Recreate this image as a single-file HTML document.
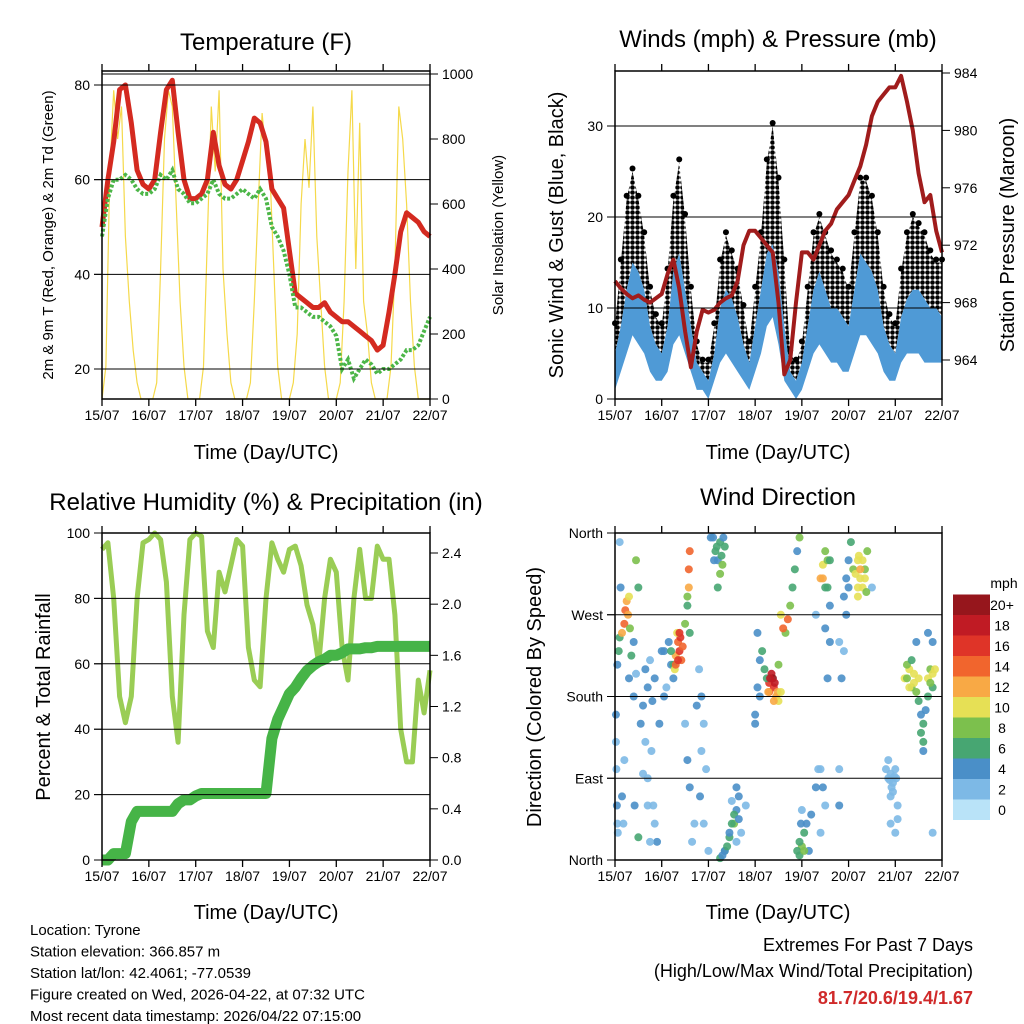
<!DOCTYPE html>
<html><head><meta charset="utf-8"><style>
body{margin:0;background:#fff}
svg{display:block;font-family:"Liberation Sans",sans-serif}
</style></head><body>
<svg id="s" width="1024" height="1024" viewBox="0 0 1024 1024">
<defs><pattern id="dots" width="5" height="5" patternUnits="userSpaceOnUse"><circle cx="2.5" cy="2.5" r="2.3" fill="#000"/></pattern></defs>
</svg>
<script>
// ---- data (3-hourly from 15/07 00 UTC) ----
const dayLabels=["15/07","16/07","17/07","18/07","19/07","20/07","21/07","22/07"];
const tempT=[50,60,68,79,80,72,62,59, 58,60,70,79,81,70,60,56, 56,57,60,70,63,59,58,60, 64,68,73,72,68,58,56,54, 45,36,35,34,33,33,34,32, 31,30,30,29,28,27,26,24, 25,32,40,49,53,52,51,49,48];
const tempTd=[48,56,60,60,61,60,58,57, 57,58,61,60,62,58,57,55, 55,56,57,60,57,56,56,57, 58,57,56,58,56,50,48,45, 40,33,33,32,31,31,30,29, 27,20,22,18,20,22,21,19, 20,20,21,22,24,24,25,28,31];
const solar=[0,100,700,950,800,900,500,300,150,50,0,0, 0,0,50,400,800,950,900,600,300,100,0,0, 0,0,100,500,900,700,950,400,200,50,0,0, 0,0,50,300,600,880,750,700,400,100,0,0, 0,50,200,600,800,650,900,500,300,100,0,0, 0,50,300,700,950,400,850,300,200,50,0,0, 0,0,100,400,900,800,600,300,100,0,0,0,0];
const pressure=[969.5,969,968.6,968.3,968.5,968.2,968,968.3, 968.6,970,971,969,966,963.5,966,967.5, 967.3,967.5,968,968.3,968.5,969.5,972,973, 973,972.5,972,971.5,968,963,964,968, 971.5,971.5,971,972,973,973.5,974.5,975, 975.5,976.5,977.5,979,981,982,982.5,983, 983,983.8,982,980,977,975,975.5,973,971.5];
const windLow=[1,3,5,7,6,5,3,2, 2,3,6,7,5,3,1,1, 0,2,4,5,4,3,2,1, 3,5,8,9,6,2,1,0, 1,3,5,6,5,4,4,3, 3,5,7,7,6,5,3,2, 2,4,5,5,5,4,4,4,4];
const windHigh=[5,8,12,15,14,12,8,6, 5,8,14,16,12,8,4,3, 2,5,10,12,11,9,6,4, 8,12,16,17,14,8,3,2, 4,8,12,14,12,10,10,9, 8,12,16,15,14,12,8,6, 5,9,11,12,12,11,10,10,9];
const gustHigh=[8,15,22,25,22,18,12,9, 8,14,22,26,20,12,6,4, 4,8,15,18,16,14,10,6, 12,18,26,30,24,15,5,4, 6,12,18,20,18,16,15,14, 12,18,24,24,22,18,12,9, 8,14,18,20,19,18,16,15,15];
const rh=[95,97,80,50,42,50,80,97, 98,100,98,85,50,36,75,98, 100,99,70,65,88,82,90,98, 96,65,55,53,80,97,92,88, 95,96,90,78,72,60,80,92, 88,65,55,80,95,80,80,96, 92,92,75,40,30,30,55,45,58];
const precip=[0,0,.05,.05,.05,.3,.38,.38, .38,.38,.38,.38,.38,.44,.47,.47, .5,.52,.52,.52,.52,.52,.52,.52, .52,.52,.52,.52,.52,.95,1.1,1.2, 1.3,1.35,1.42,1.48,1.52,1.55,1.57,1.6, 1.6,1.62,1.65,1.65,1.65,1.66,1.66,1.67, 1.67,1.67,1.67,1.67,1.67,1.67,1.67,1.67,1.67];
const dirT=[0.05,0.08,0.1,0.15,0.2,0.22,0.25,0.28,0.3,0.32,0.02,0.04,0.06,0.1,0.4,0.45,0.42,0.5,0.45,0.5,0.55,0.6,
0.65,0.7,0.75,0.8,0.85,0.78,0.82,0.9,
1.3,1.35,1.38,1.4,1.42,1.45,1.33,1.5,1.55,1.58,1.6,1.58,1.2,1.25,1.1,1.15,1.05,
1.8,1.85,1.9,1.95,1.82,1.9,2.0,
2.1,2.15,2.2,2.25,2.3,2.35,2.2,2.05,
2.25,2.35,2.45,2.55,2.6,2.65,2.7,2.8,2.5,
3.3,3.35,3.4,3.45,3.5,3.3,3.38,3.2,3.1,3.05,3.15,3.0,
3.65,3.7,3.75,3.8,3.85,3.9,3.95,
3.95,4.0,4.05,4.1,4.15,4.0,
4.4,4.45,4.5,4.55,4.6,4.5,4.3,4.35,4.45,4.5,4.4,
5.1,5.2,5.25,5.3,5.35,5.4,5.2,5.0,4.95,4.9,5.05,5.5,
5.85,5.9,5.95,6.0,5.95,6.05,5.9,5.85,
6.2,6.3,6.35,6.4,6.25,6.5,6.55,6.6,6.7,6.75,6.8,6.45,6.7,6.6,6.8,
0.02,0.03,0.05,0.15,0.18,0.2,0.12,0.3,0.35,0.4,0.6,0.65,0.7,0.7,0.75,0.85,0.95,1.0,1.05,
1.2,1.25,1.28,1.3,1.35,1.38,1.55,1.6,1.5,1.55,1.6,1.7,1.65,1.75,1.85,
2.12,2.18,2.28,2.32,2.25,2.35,2.4,2.45,2.5,2.55,2.6,2.65,2.6,2.3,
3.0,3.05,3.1,3.25,3.28,3.32,3.42,3.48,3.55,3.4,3.5,3.55,3.6,
3.9,3.95,3.98,4.05,4.2,4.3,4.4,4.6,4.5,4.45,4.55,4.55,4.6,
5.0,5.15,5.2,5.25,5.3,5.35,5.38,5.22,4.8,4.85,4.9,4.95,4.8,4.8,
5.8,5.88,5.92,5.98,6.02,5.9,6.0,6.05,6.25,6.3,6.4,6.45,6.5,6.55,6.6,6.65,6.75,6.8,6.85,6.7,6.35,6.8];
const dirD=[215,230,245,250,260,275,285,270,290,255,130,60,30,350,180,205,60,25,330,300,150,95,
210,190,220,175,200,120,60,20,
225,240,230,245,220,235,250,260,290,320,340,300,215,200,190,240,230,
210,180,150,100,70,40,10,
355,340,330,350,325,345,300,355,
2,10,25,40,55,70,30,60,65,
195,205,190,180,175,185,200,210,220,250,230,150,
250,265,280,300,320,340,355,
5,15,30,40,10,55,
310,325,300,330,280,255,270,100,80,60,30,
320,300,310,330,320,340,290,330,270,230,350,300,
90,95,85,100,75,60,40,110,
200,210,190,195,215,175,160,150,200,210,190,240,250,120,30,
160,100,40,70,40,110,300,200,225,240,170,130,90,60,20,40,150,230,180,
230,215,210,215,220,250,280,250,150,110,80,40,20,170,120,
330,345,335,355,315,10,15,30,40,50,80,45,20,5,
160,190,180,200,185,200,195,185,185,175,215,270,255,
10,20,40,10,50,80,100,330,340,310,300,200,240,
300,315,330,320,300,310,295,335,240,200,290,310,100,60,
100,88,80,92,90,70,30,45,200,190,205,185,200,140,130,165,195,205,210,180,220,240];
const dirS=[4,5,6,12,13,14,12,11,10,8,2,3,1,2,3,2,4,6,8,6,3,2,
4,3,2,4,3,2,1,3,
12,14,16,15,13,14,10,8,7,14,13,12,4,3,2,4,3,
2,4,1,2,3,1,1,
4,5,4,6,7,6,5,4,
5,6,6,7,4,3,2,2,2,
16,18,16,12,10,14,20,6,4,3,5,3,
8,13,7,6,6,4,7,
6,8,5,4,3,2,
12,10,6,8,4,3,2,2,3,2,1,
8,10,10,9,8,7,10,4,4,2,6,2,
2,2,2,2,2,1,2,1,
9,10,8,10,7,6,4,6,9,8,5,3,4,4,2,
3,2,2,4,1,2,3,4,5,3,4,2,1,2,1,2,3,3,4,
5,6,10,14,15,16,6,5,2,4,3,2,1,3,1,
4,6,5,4,7,4,6,4,5,6,4,3,2,4,
4,4,3,5,12,17,18,11,10,12,8,10,13,
6,5,4,7,4,3,2,6,8,11,5,4,3,
4,9,9,11,10,9,8,9,2,3,3,4,2,3,
2,2,2,2,2,2,1,2,8,9,10,7,9,5,6,4,8,9,10,6,6,3];
const cbarColors=["#b9e3f8","#7db9e6","#4a8fc8","#47a672","#7cc04d","#e6e055","#f8a945","#f1652d","#df3428","#c01b24","#96161c"];
const cbarLabels=["0","2","4","6","8","10","12","14","16","18","20+"];

// ---- helpers ----
const NS="http://www.w3.org/2000/svg",S=document.getElementById('s');
function el(tag,a,parent,txt){const e=document.createElementNS(NS,tag);for(const k in a)e.setAttribute(k,a[k]);if(txt!==undefined)e.textContent=txt;(parent||S).appendChild(e);return e;}
function txt(x,y,t,size,anchor,name,extra){const e=el('text',Object.assign({x:x,y:y,'font-size':size,'text-anchor':anchor||'middle',fill:'#000'},extra||{}),S,t);

return e;}
function vtxt(x,y,t,size,name){const e=el('text',{x:0,y:0,'font-size':size,'text-anchor':'middle',transform:`translate(${x},${y}) rotate(-90)`},S,t);

return e;}
function lin(d0,d1,p0,p1){return v=>p0+(v-d0)*(p1-p0)/(d1-d0);}
function poly(pts,attrs,name){const e=el('polyline',Object.assign({points:pts.map(p=>p[0].toFixed(1)+','+p[1].toFixed(1)).join(' '),fill:'none'},attrs));

return e;}

function frame(x0,y0,x1,y1,name,xs,ticksL,ticksR,gridY){
  const g=el('g',{});
  gridY.forEach(y=>el('line',{x1:x0-8,x2:x1,y1:y,y2:y,stroke:'#000','stroke-width':1},g));
  for(let i=0;i<dayLabels.length;i++){const x=xs(i);el('line',{x1:x,x2:x,y1:y1,y2:y1+7,stroke:'#000','stroke-width':1.3},g);el('line',{x1:x,x2:x,y1:y0,y2:y0-7,stroke:'#000','stroke-width':1.3},g);
    const t=txt(x,y1+21,dayLabels[i],14,'middle','x-tick-label');}
  ticksL.forEach(([y,l])=>{el('line',{x1:x0-8,x2:x0,y1:y,y2:y,stroke:'#000'},g);txt(x0-12,y+5,l,14,'end','y-tick-label');});
  ticksR.forEach(([y,l])=>{el('line',{x1:x1,x2:x1+8,y1:y,y2:y,stroke:'#000'},g);txt(x1+12,y+5,l,14,'start','y2-tick-label');});
  el('rect',{x:x0,y:y0,width:x1-x0,height:y1-y0,fill:'none',stroke:'#000','stroke-width':1.5},g);
}
const N=tempT.length;

// ---- Panel 1: Temperature ----
{const x0=102,x1=430,y0=71,y1=399;const X=lin(0,N-1,x0,x1),Xd=lin(0,7,x0,x1);const Y=lin(20,80,369,85);const Ys=lin(0,1000,399,74);
 poly(solar.map((v,i)=>[lin(0,solar.length-1,x0,x1)(i),Ys(v)]),{stroke:'#f5d94a','stroke-width':1.2},'solar-insolation-line');
 poly(tempT.map((v,i)=>[X(i),Y(v)]),{stroke:'#d42a20','stroke-width':5,'stroke-linejoin':'round'},'temperature-2m-line');
 poly(tempTd.map((v,i)=>[X(i),Y(v)]),{stroke:'#4cb648','stroke-width':4,'stroke-dasharray':'3 2'},'dewpoint-line');
 frame(x0,y0,x1,y1,'temperature-plot',Xd,[20,40,60,80].map(v=>[Y(v),v]),[0,200,400,600,800,1000].map(v=>[Ys(v),v]),[20,40,60,80].map(v=>Y(v)));
 el('line',{x1:x0,x2:x1,y1:Ys(1000),y2:Ys(1000),stroke:'#000'});
 txt(266,50,'Temperature (F)',24,'middle','temperature-title');
 txt(266,459,'Time (Day/UTC)',20,'middle','x-axis-title');
 vtxt(53,235,'2m & 9m T (Red, Orange) & 2m Td (Green)',15,'y-axis-title');
 vtxt(503,235,'Solar Insolation (Yellow)',15,'y2-axis-title');}

// ---- Panel 2: Winds ----
{const x0=615,x1=942,y0=71,y1=399;const X=lin(0,N-1,x0,x1),Xd=lin(0,7,x0,x1);const Y=lin(0,30,399,126);const Yp=lin(964,984,360,73);
 const top=gustHigh.map((v,i)=>[X(i),Y(v)]),mid=windHigh.map((v,i)=>[X(i),Y(v)]).reverse(),low=windLow.map((v,i)=>[X(i),Y(v)]).reverse();
 let e=el('polygon',{points:top.concat(mid).map(p=>p.join(',')).join(' '),fill:'url(#dots)'});
 gustHigh.forEach((v,i)=>{const c=el('circle',{cx:X(i),cy:Y(v)-3,r:3,fill:'#000'});});
 e=el('polygon',{points:windHigh.map((v,i)=>[X(i),Y(v)]).concat(low).map(p=>p.join(',')).join(' '),fill:'#4f9ad6'});
 poly(pressure.map((v,i)=>[X(i),Yp(v)]),{stroke:'#a01c1c','stroke-width':4,'stroke-linejoin':'round'},'pressure-line');
 frame(x0,y0,x1,y1,'winds-plot',Xd,[0,10,20,30].map(v=>[Y(v),v]),[964,968,972,976,980,984].map(v=>[Yp(v),v]),[10,20,30].map(v=>Y(v)));
 txt(778,47,'Winds (mph) & Pressure (mb)',24,'middle','winds-title');
 txt(778,459,'Time (Day/UTC)',20,'middle','x-axis-title');
 vtxt(563,235,'Sonic Wind & Gust (Blue, Black)',20,'y-axis-title');
 vtxt(1014,235,'Station Pressure (Maroon)',20,'y2-axis-title');}

// ---- Panel 3: RH & precip ----
{const x0=102,x1=430,y0=533,y1=860;const X=lin(0,N-1,x0,x1),Xd=lin(0,7,x0,x1);const Y=lin(0,100,860,533);const Yp=lin(0,2.4,860,553);
 poly(rh.map((v,i)=>[X(i),Y(v)]),{stroke:'#9acd55','stroke-width':5,'stroke-linejoin':'round'},'relative-humidity-line');
 poly(precip.map((v,i)=>[X(i),Yp(v)]),{stroke:'#46b447','stroke-width':11,'stroke-linejoin':'round'},'precipitation-line');
 frame(x0,y0,x1,y1,'humidity-plot',Xd,[0,20,40,60,80,100].map(v=>[Y(v),v]),[0,.4,.8,1.2,1.6,2,2.4].map(v=>[Yp(v),v.toFixed(1)]),[20,40,60,80].map(v=>Y(v)));
 txt(266,510,'Relative Humidity (%) & Precipitation (in)',24,'middle','humidity-title');
 txt(266,919,'Time (Day/UTC)',20,'middle','x-axis-title');
 vtxt(50,697,'Percent & Total Rainfall',20,'y-axis-title');}

// ---- Panel 4: Wind direction ----
{const x0=615,x1=942,y0=533,y1=860;const Xd=lin(0,7,x0,x1);const Y=lin(0,360,860,533);
 const col=s=>cbarColors[Math.min(10,Math.max(0,Math.round(s/2)))];
 dirT.forEach((t,i)=>{const c=el('circle',{cx:Xd(t),cy:Y(dirD[i]),r:4,fill:col(dirS[i]),opacity:0.9});
 
 });
 frame(x0,y0,x1,y1,'wind-direction-plot',Xd,[[Y(360),'North'],[Y(270),'West'],[Y(180),'South'],[Y(90),'East'],[Y(0),'North']],[],[90,180,270].map(v=>Y(v)));
 txt(778,505,'Wind Direction',24,'middle','wind-direction-title');
 txt(778,919,'Time (Day/UTC)',20,'middle','x-axis-title');
 vtxt(541,697,'Direction (Colored By Speed)',20,'y-axis-title');
 txt(1004,588,'mph',14,'middle','colorbar-title');
 const bh=20.5;
 cbarColors.forEach((c,i)=>{const y=820-(i+1)*bh;const r=el('rect',{x:953,y:y,width:37,height:bh,fill:c});
 
 
 txt(1002,y+bh/2+5,cbarLabels[i],14,'middle','colorbar-label');});}

// ---- footer ----
['Location: Tyrone','Station elevation: 366.857 m','Station lat/lon: 42.4061; -77.0539','Figure created on Wed, 2026-04-22, at 07:32 UTC','Most recent data timestamp: 2026/04/22 07:15:00'].forEach((t,i)=>txt(30,935+i*21.5,t,15,'start','station-info'));
txt(973,951,'Extremes For Past 7 Days',18,'end','extremes-title');
txt(973,977,'(High/Low/Max Wind/Total Precipitation)',18,'end','extremes-subtitle');
txt(973,1004,'81.7/20.6/19.4/1.67',18,'end','extremes-values',{fill:'#d02a2a','font-weight':'bold'});
</script>
</body></html>
